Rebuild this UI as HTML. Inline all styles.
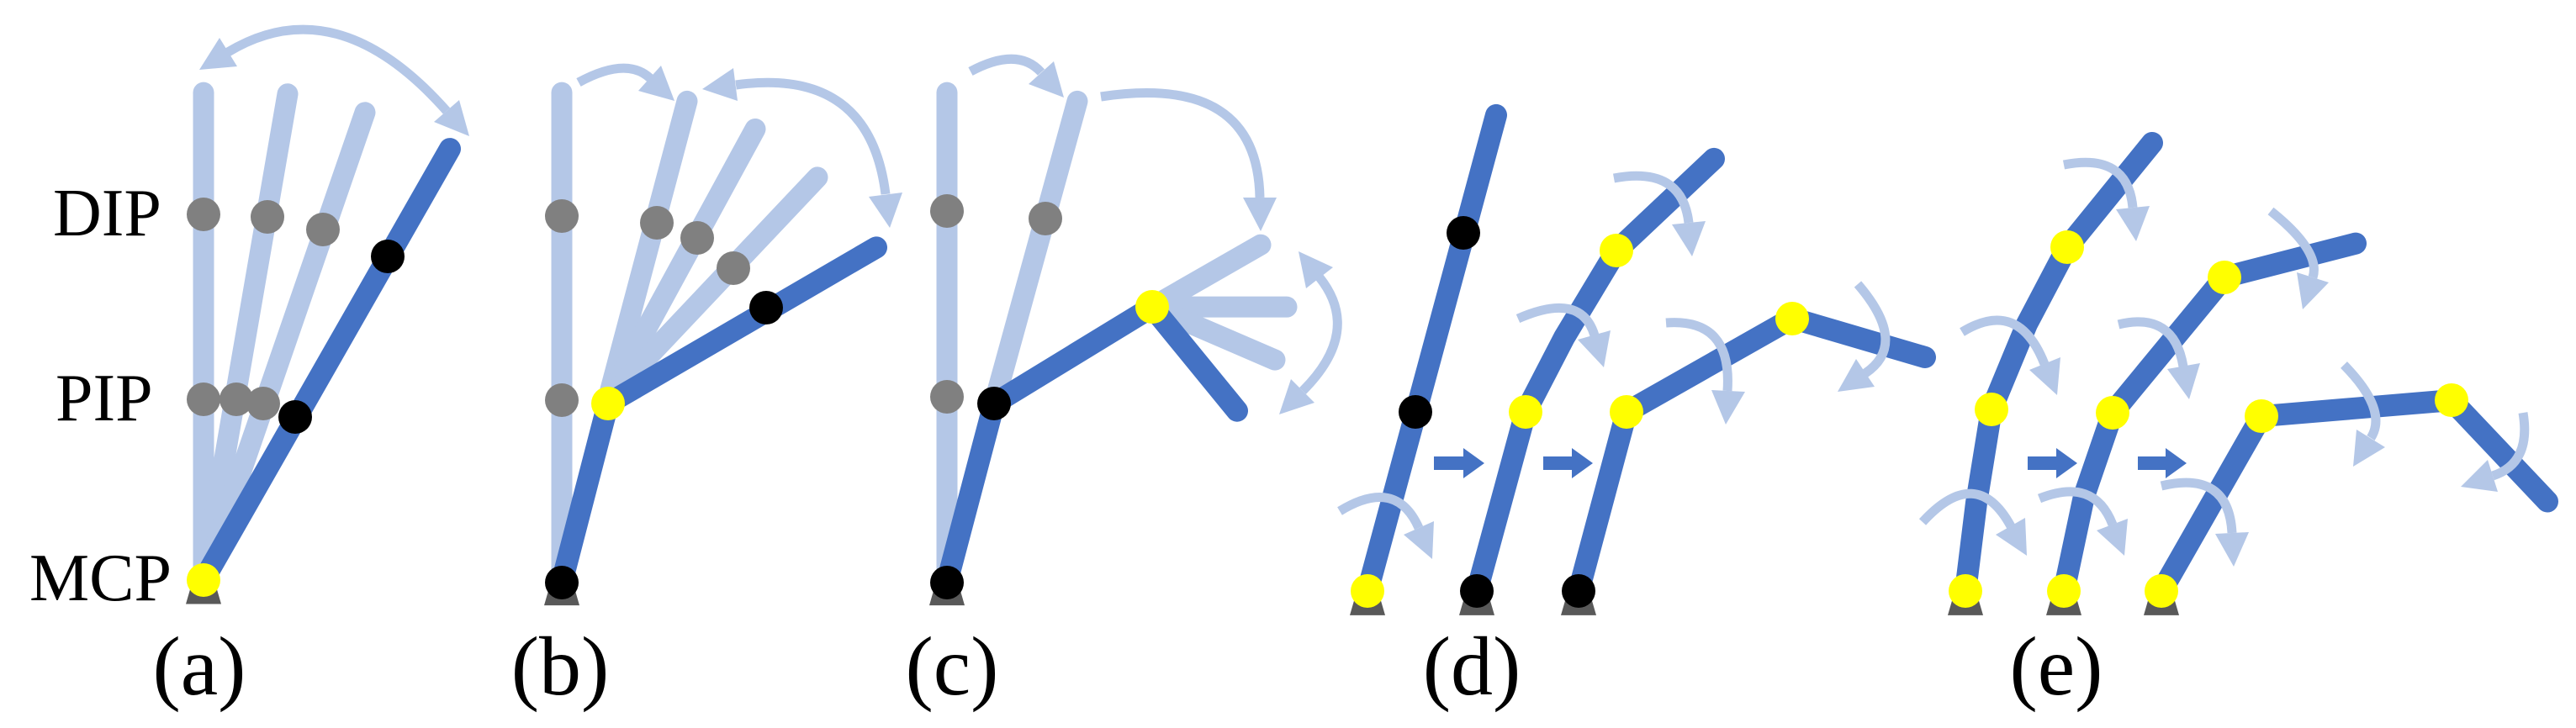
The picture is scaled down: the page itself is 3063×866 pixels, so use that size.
<!DOCTYPE html>
<html><head><meta charset="utf-8"><style>html,body{margin:0;padding:0;background:#fff;overflow:hidden}svg{display:block}</style></head>
<body>
<svg width="3063" height="866" viewBox="0 0 3063 866" xmlns="http://www.w3.org/2000/svg">
<g transform="scale(1,0.787)">
<g stroke-linecap="round" fill="none">
<g stroke="#b4c7e7" stroke-width="25">
<line vector-effect="non-scaling-stroke" x1="242" y1="877" x2="242" y2="140"/>
<line vector-effect="non-scaling-stroke" x1="242" y1="877" x2="342" y2="142"/>
<line vector-effect="non-scaling-stroke" x1="242" y1="877" x2="434" y2="170"/>
<line vector-effect="non-scaling-stroke" x1="668" y1="880" x2="668" y2="140"/>
<line vector-effect="non-scaling-stroke" x1="723" y1="603" x2="817" y2="153"/>
<line vector-effect="non-scaling-stroke" x1="723" y1="603" x2="898" y2="195"/>
<line vector-effect="non-scaling-stroke" x1="723" y1="603" x2="972" y2="268"/>
<line vector-effect="non-scaling-stroke" x1="1126" y1="880" x2="1126" y2="140"/>
<line vector-effect="non-scaling-stroke" x1="1182" y1="610" x2="1281" y2="153"/>
<line vector-effect="non-scaling-stroke" x1="1370" y1="464" x2="1499" y2="370"/>
<line vector-effect="non-scaling-stroke" x1="1370" y1="464" x2="1530" y2="464"/>
<line vector-effect="non-scaling-stroke" x1="1370" y1="464" x2="1516" y2="544"/>
</g>
<g stroke="#4472c4" stroke-width="26" stroke-linejoin="round">
<line vector-effect="non-scaling-stroke" x1="242" y1="877" x2="535" y2="225"/>
<polyline vector-effect="non-scaling-stroke" points="668,880 723,610 1042,374"/>
<polyline vector-effect="non-scaling-stroke" points="1126,880 1182,610 1370,464 1471,621"/>
<line vector-effect="non-scaling-stroke" x1="1626" y1="894" x2="1779" y2="174"/>
<polyline vector-effect="non-scaling-stroke" points="1756,894 1814,623 1860,510 1922,379 2038,240"/>
<polyline vector-effect="non-scaling-stroke" points="1877,894 1934,623 2131,481 2289,540"/>
<polyline vector-effect="non-scaling-stroke" points="2337,894 2350,760 2368,619 2410,490 2458,374 2559,216"/>
<polyline vector-effect="non-scaling-stroke" points="2454,894 2478,750 2512,624 2645,419 2801,368"/>
<polyline vector-effect="non-scaling-stroke" points="2570,894 2689,629 2915,605 3029,758"/>
</g>
</g>
<g fill="#595959">
<polygon points="226,891 258,891 263,913 221,913"/>
<polygon points="652,893 684,893 689,915 647,915"/>
<polygon points="1110,893 1142,893 1147,915 1105,915"/>
<polygon points="1610,908 1642,908 1647,930 1605,930"/>
<polygon points="1740,908 1772,908 1777,930 1735,930"/>
<polygon points="1861,908 1893,908 1898,930 1856,930"/>
<polygon points="2321,908 2353,908 2358,930 2316,930"/>
<polygon points="2438,908 2470,908 2475,930 2433,930"/>
<polygon points="2554,908 2586,908 2591,930 2549,930"/>
</g>
</g>
<g stroke="#b4c7e7" stroke-width="11" fill="none" stroke-linecap="butt">
<path d="M271,62 Q400,-16 531,132"/>
<path d="M688,98 Q745,67 773,93"/>
<path d="M875,101 Q1034,79 1053,231"/>
<path d="M1154,85 Q1210,55 1238,86"/>
<path d="M1309,115 Q1495,87 1498,235"/>
<path d="M1569,330 Q1620,394 1549,465"/>
<path d="M1593,608 Q1660,567 1687,628"/>
<path d="M1805,379 Q1880,346 1896,399"/>
<path d="M1919,212 Q2000,197 2008,265"/>
<path d="M1981,384 Q2060,378 2054,465"/>
<path d="M2209,338 Q2270,409 2218,444"/>
<path d="M2286,621 Q2350,551 2391,626"/>
<path d="M2333,395 Q2400,354 2431,433"/>
<path d="M2454,196 Q2530,181 2536,247"/>
<path d="M2425,593 Q2490,567 2512,624"/>
<path d="M2519,386 Q2585,370 2596,436"/>
<path d="M2700,251 Q2760,299 2750,330"/>
<path d="M2570,578 Q2650,559 2654,634"/>
<path d="M2787,434 Q2840,488 2819,521"/>
<path d="M3000,491 Q3010,551 2964,566"/>
</g>
<g fill="#b4c7e7">
<polygon points="558,162 516,145 546,119"/>
<polygon points="237,83 261,45 282,79"/>
<polygon points="802,120 759,108 786,78"/>
<polygon points="1058,271 1033,234 1073,229"/>
<polygon points="835,106 872,81 877,120"/>
<polygon points="1265,116 1223,100 1253,73"/>
<polygon points="1499,275 1478,235 1518,235"/>
<polygon points="1521,493 1535,451 1563,479"/>
<polygon points="1544,299 1585,318 1553,343"/>
<polygon points="1703,665 1669,636 1705,620"/>
<polygon points="1907,437 1876,404 1915,393"/>
<polygon points="2012,305 1988,267 2028,263"/>
<polygon points="2052,505 2035,464 2075,466"/>
<polygon points="2185,466 2207,427 2229,460"/>
<polygon points="2410,661 2373,636 2408,616"/>
<polygon points="2446,470 2413,440 2450,425"/>
<polygon points="2540,287 2516,249 2556,245"/>
<polygon points="2526,661 2493,631 2530,617"/>
<polygon points="2603,475 2577,439 2616,432"/>
<polygon points="2738,368 2731,324 2769,336"/>
<polygon points="2656,674 2634,635 2674,633"/>
<polygon points="2798,555 2802,511 2836,532"/>
<polygon points="2926,579 2958,547 2970,585"/>
</g>
<g fill="#4472c4">
<polygon points="1705,543 1740,543 1740,533 1765,551 1740,569 1740,559 1705,559"/>
<polygon points="1835,543 1869,543 1869,533 1894,551 1869,569 1869,559 1835,559"/>
<polygon points="2411,543 2445,543 2445,533 2470,551 2445,569 2445,559 2411,559"/>
<polygon points="2542,543 2575,543 2575,533 2600,551 2575,569 2575,559 2542,559"/>
</g>
<g fill="#808080">
<circle cx="242" cy="255" r="20"/><circle cx="318" cy="258" r="20"/><circle cx="384" cy="273" r="20"/>
<circle cx="242" cy="475" r="20"/><circle cx="281" cy="475" r="20"/><circle cx="313" cy="480" r="20"/>
<circle cx="668" cy="257" r="20"/><circle cx="781" cy="265" r="20"/><circle cx="829" cy="283" r="20"/><circle cx="872" cy="319" r="20"/>
<circle cx="668" cy="476" r="20"/>
<circle cx="1126" cy="251" r="20"/><circle cx="1243" cy="260" r="20"/><circle cx="1126" cy="472" r="20"/>
</g>
<g fill="#000">
<circle cx="461" cy="305" r="20"/><circle cx="351" cy="496" r="20"/>
<circle cx="911" cy="366" r="20"/><circle cx="668" cy="693" r="20"/>
<circle cx="1182" cy="480" r="20"/><circle cx="1126" cy="693" r="20"/>
<circle cx="1740" cy="277" r="20"/><circle cx="1683" cy="490" r="20"/>
<circle cx="1756" cy="703" r="20"/><circle cx="1877" cy="703" r="20"/>
</g>
<g fill="#ffff00">
<circle cx="242" cy="690" r="20"/>
<circle cx="723" cy="480" r="20"/>
<circle cx="1370" cy="365" r="20"/>
<circle cx="1626" cy="703" r="20"/>
<circle cx="1814" cy="490" r="20"/><circle cx="1922" cy="298" r="20"/>
<circle cx="1934" cy="490" r="20"/><circle cx="2131" cy="379" r="20"/>
<circle cx="2337" cy="703" r="20"/><circle cx="2368" cy="487" r="20"/><circle cx="2458" cy="294" r="20"/>
<circle cx="2454" cy="703" r="20"/><circle cx="2512" cy="491" r="20"/><circle cx="2645" cy="330" r="20"/>
<circle cx="2570" cy="703" r="20"/><circle cx="2689" cy="495" r="20"/><circle cx="2915" cy="476" r="20"/>
</g>
<g font-family="Liberation Serif, serif" font-size="80" fill="#000">
<text x="63" y="280">DIP</text>
<text x="66" y="500">PIP</text>
<text x="35" y="714">MCP</text>
</g>
<g font-family="Liberation Serif, serif" font-size="100" fill="#000" text-anchor="middle">
<text x="237" y="826">(a)</text>
<text x="666" y="826">(b)</text>
<text x="1132" y="826">(c)</text>
<text x="1750" y="826">(d)</text>
<text x="2445" y="826">(e)</text>
</g>
</svg>
</body></html>
